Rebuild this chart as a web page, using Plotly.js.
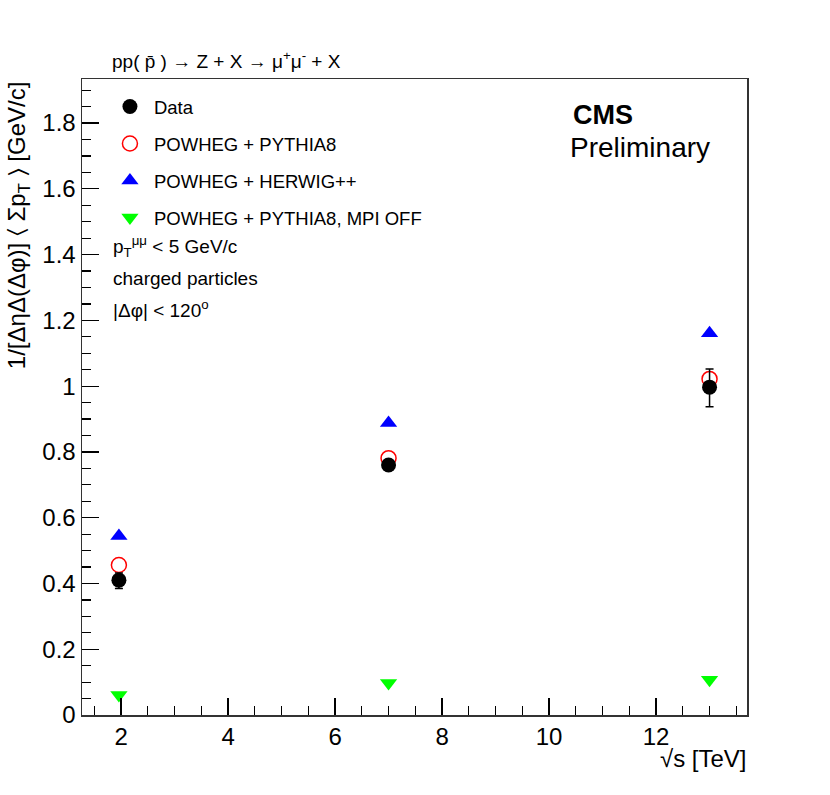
<!DOCTYPE html>
<html>
<head>
<meta charset="utf-8">
<script src="https://cdn.plot.ly/plotly-3.0.1.min.js"></script>
<style>
  html, body { margin: 0; padding: 0; background: #fff; }
  #chart { width: 830px; height: 795px; }
</style>
</head>
<body>
<div id="chart"></div>
<script>
// centre-of-mass energies [TeV]
var energies = [1.96, 7, 13];

// measured values and their uncertainties
var dataValues = [0.41, 0.76, 0.997];
var dataErrUp = [0.022, 0.015, 0.055];
var dataErrDown = [0.025, 0.015, 0.06];

// MC predictions
var pythia8 = [0.456, 0.781, 1.022];
var herwig = [0.544, 0.888, 1.161];
var pythia8NoMpi = [0.061, 0.097, 0.107];

var font = 'Liberation Sans, Arial, Helvetica, sans-serif';

var traces = [
    {
        x: energies, y: pythia8, name: 'POWHEG + PYTHIA8',
        type: 'scatter', mode: 'markers', legendgroup: 'b', legendrank: 2,
        marker: { symbol: 'circle-open', size: 15, color: '#ff0000', line: { width: 1.5, color: '#ff0000' } }
    },
    {
        x: energies, y: herwig, name: 'POWHEG + HERWIG++',
        type: 'scatter', mode: 'markers', legendgroup: 'c', legendrank: 3,
        marker: { symbol: 'triangle-up', size: 15, color: '#0000ff' }
    },
    {
        x: energies, y: pythia8NoMpi, name: 'POWHEG + PYTHIA8, MPI OFF',
        type: 'scatter', mode: 'markers', legendgroup: 'd', legendrank: 4,
        marker: { symbol: 'triangle-down', size: 15, color: '#00ff00' }
    },
    {
        x: energies, y: dataValues, name: 'Data',
        type: 'scatter', mode: 'markers', legendgroup: 'a', legendrank: 1,
        marker: { symbol: 'circle', size: 15, color: '#000000' },
        error_y: { type: 'data', array: dataErrUp, arrayminus: dataErrDown, color: '#000', thickness: 1.5, width: 4 }
    }
];

var layout = {
    width: 830,
    height: 795,
    margin: { l: 82, r: 83, t: 79, b: 80 },
    paper_bgcolor: '#fff',
    plot_bgcolor: '#fff',
    font: { family: font, color: '#000' },
    showlegend: true,
    legend: {
        x: 0.036, y: 0.986, xanchor: 'left', yanchor: 'top',
        bgcolor: 'rgba(0,0,0,0)',
        font: { family: font, size: 18.5, color: '#000' },
        tracegroupgap: 10,
        itemwidth: 38,
        traceorder: 'grouped'
    },
    xaxis: {
        range: [1.27, 13.7],
        dtick: 2, tick0: 0,
        ticks: 'inside', ticklen: 17, tickwidth: 1.2, tickcolor: '#000',
        minor: { dtick: 0.5, ticks: 'inside', ticklen: 9, tickwidth: 1.2, tickcolor: '#000' },
        showgrid: false, zeroline: false,
        showline: true, linecolor: '#333', linewidth: 1.5, mirror: true,
        tickfont: { family: font, size: 24, color: '#000' }
    },
    yaxis: {
        range: [0, 1.934],
        dtick: 0.2, tick0: 0,
        ticks: 'inside', ticklen: 17, tickwidth: 1.2, tickcolor: '#000',
        minor: { dtick: 0.05, ticks: 'inside', ticklen: 9, tickwidth: 1.2, tickcolor: '#000' },
        showgrid: false, zeroline: false,
        showline: true, linecolor: '#333', linewidth: 1.5, mirror: true,
        tickfont: { family: font, size: 24, color: '#000' }
    },
    annotations: [
        {
            xref: 'paper', yref: 'paper', x: 0.042, y: 1.03, xanchor: 'left', yanchor: 'middle',
            text: 'pp( p\u0304 ) \u2192 Z + X \u2192 \u03bc<sup>+</sup>\u03bc<sup>-</sup> + X',
            showarrow: false, font: { size: 19 }
        },
        {
            xref: 'paper', yref: 'paper', x: 0.735, y: 0.944, xanchor: 'left', yanchor: 'middle',
            text: '<b>CMS</b>', showarrow: false, font: { size: 27 }
        },
        {
            xref: 'paper', yref: 'paper', x: 0.731, y: 0.893, xanchor: 'left', yanchor: 'middle',
            text: 'Preliminary', showarrow: false, font: { size: 28 }
        },
        {
            xref: 'paper', yref: 'paper', x: 0.044, y: 0.736, xanchor: 'left', yanchor: 'middle',
            text: 'p<sub>T</sub><sup>\u03bc\u03bc</sup> < 5 GeV/c', showarrow: false, font: { size: 19 }
        },
        {
            xref: 'paper', yref: 'paper', x: 0.044, y: 0.686, xanchor: 'left', yanchor: 'middle',
            text: 'charged particles', showarrow: false, font: { size: 19 }
        },
        {
            xref: 'paper', yref: 'paper', x: 0.044, y: 0.638, xanchor: 'left', yanchor: 'middle',
            text: '|\u0394\u03c6| < 120<sup>o</sup>', showarrow: false, font: { size: 19 }
        },
        {
            xref: 'paper', yref: 'paper', x: 1.003, y: -0.068, xanchor: 'right', yanchor: 'middle',
            text: '\u221as [TeV]', showarrow: false, font: { size: 24 }
        },
        {
            xref: 'paper', yref: 'paper', x: -0.096, y: 1.0, xanchor: 'center', yanchor: 'top',
            textangle: -90,
            text: '1/[\u0394\u03b7\u0394(\u0394\u03c6)] \u2329 \u03a3p<sub>T</sub> \u232a [GeV/c]',
            showarrow: false, font: { size: 24 }
        }
    ]
};

Plotly.newPlot('chart', traces, layout, { displayModeBar: false, staticPlot: true });
</script>
</body>
</html>
